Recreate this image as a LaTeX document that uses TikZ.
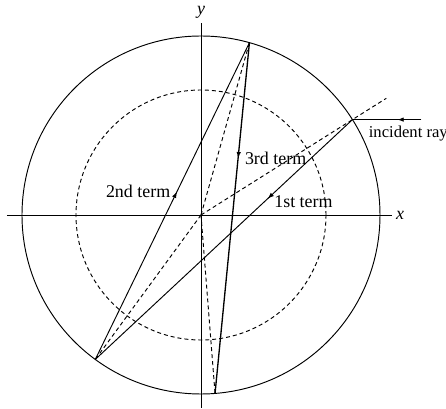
\documentclass[tikz,border=0pt]{standalone}
\usepackage{fontspec}
\setmainfont{Liberation Serif}
\usepackage{tikz}
\usetikzlibrary{decorations.markings,arrows.meta}
\tikzset{
    raggio/.style={dash pattern=on 2.1pt off 1.6pt},
    freccia/.style={postaction={decorate,decoration={markings,
        mark=at position #1 with {\arrow{Latex[length=3.4pt,width=2.4pt]}}}}},
    every node/.style={font=\fontsize{9.5}{11}\selectfont},
}

\begin{document}
\begin{tikzpicture}[x=0.53pt,y=0.53pt,line width=0.5pt]
        \useasboundingbox (-201,-194) rectangle (245,215);
        \def\R{179} % raggio della goccia
        \def\r{125} % raggio tratteggiato
        % Assi
        \draw (-194,0) -- (191,0) node[right, inner sep=2pt] {\textit{x}};
        \draw (0,-193) -- (0,192) node[above, inner sep=2pt] {\textit{y}};
        % Cerchi
        \draw (0,0) circle (\R);
        \draw[raggio] (0,0) circle (\r);
        % Punti sul bordo
        \coordinate (O) at (0,0);
        \coordinate (inc) at (32.2:\R);
        \coordinate (p1) at (233.8:\R);
        \coordinate (p2) at (74.3:\R);
        \coordinate (p3) at (274.5:\R);
        \coordinate (fine) at (32.2:219);
        \path (inc) ++(69,0) coordinate (sorg);
        % Raggi tratteggiati
        \draw[raggio] (O) -- (fine);
        \foreach \p in {p1,p2,p3} {
                \draw[raggio] (O) -- (\p);
            }
        % Raggio incidente
        \draw[freccia=0.35] (sorg) -- node[pos=0.86, below right, font=\fontsize{8.8}{10}\selectfont] {incident ray} (inc);
        % Termini
        \draw[freccia=0.33] (inc) -- node[pos=0.33, right, yshift=-1.5pt] {1st term} (p1);
        \draw[freccia=0.53] (p1) -- node[pos=0.53, left] {2nd term} (p2);
        \draw[freccia=0.33, line width=0.7pt] (p2) -- node[pos=0.33, right] {3rd term} (p3);
    \end{tikzpicture}
\end{document}
